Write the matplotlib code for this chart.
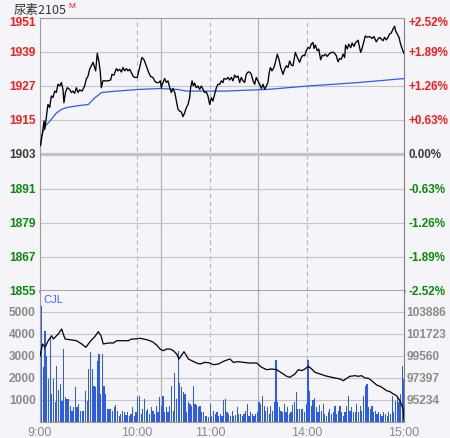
import numpy as np
import matplotlib
matplotlib.use('Agg')
import matplotlib.pyplot as plt
from matplotlib.transforms import blended_transform_factory

plt.rcParams['font.family'] = ['Liberation Sans', 'DejaVu Sans']

# --- data ---
# minutes since 9:00 (trading minutes only: 9:00-10:15, 10:30-11:30, 13:30-15:00)
price_min = [0.4, 1.2, 2.5, 2.9, 3.9, 4.9, 6.0, 7.0, 8.0, 9.1, 10.1, 11.1, 12.2, 13.2, 14.2, 14.8, 15.7, 16.9,
             18.3, 19.4, 20.4, 21.4, 22.5, 23.5, 24.5, 26.0, 27.6, 28.6, 29.7, 30.7, 31.7, 32.8, 33.8, 34.4,
             35.4, 36.5, 37.3, 37.9, 38.9, 40.0, 42.0, 43.7, 44.5, 45.7, 47.2, 48.2, 49.2, 50.3, 51.3, 52.3,
             53.4, 54.4, 55.4, 56.5, 57.5,
             58.5, 60.1, 61.6, 63.0, 64.3, 65.7, 67.2, 68.4, 69.8, 70.9, 71.9, 73.4, 74.4, 75.0, 76.0, 77.1,
             78.1, 79.1, 80.2, 81.2, 82.2, 83.3, 84.3, 85.3, 86.3, 87.4, 88.4, 89.4, 90.5, 91.5, 92.5, 93.1,
             94.0, 94.8, 95.6, 96.6, 97.7, 98.7, 99.7, 100.8, 101.8, 102.8, 103.8, 104.9, 105.9, 106.9, 108.0,
             109.0, 110.0, 111.1, 112.1, 113.1,
             113.7, 115.2, 116.2, 117.2, 118.3, 119.3, 120.3, 121.4, 122.4, 123.4, 124.4, 125.5, 126.5, 127.5,
             128.6, 129.6, 130.6, 131.7, 132.7, 133.7, 134.7, 135.8, 136.8, 137.8, 138.9, 139.9, 140.9, 141.5,
             142.4, 143.4, 144.6, 145.5, 146.7, 147.7, 148.8, 150.2, 151.2, 152.3, 153.3, 154.3, 155.4, 156.4,
             157.8, 159.1, 160.5, 161.5, 162.6, 163.6, 164.6, 165.7, 166.7, 167.7, 168.7,
             169.4, 170.2, 171.4, 172.3, 173.5, 174.5, 175.5, 176.4, 177.6, 178.6, 180.1, 181.7, 183.2, 184.2,
             185.3, 186.3, 187.3, 188.3, 188.9, 190.0, 190.8, 192.1, 192.9, 194.1, 194.9, 196.6, 197.6, 198.2,
             199.0, 200.3, 201.1, 202.3, 203.8, 205.2, 206.4, 207.9, 208.9, 209.9, 211.0, 212.0, 213.0, 214.1,
             215.1, 216.1, 217.1, 218.2, 219.2, 219.8, 220.8, 221.9, 222.9, 223.9, 225.0]
price_val = [1906.2, 1909.5, 1914.8, 1911.8, 1916.0, 1920.6, 1919.5, 1923.6, 1923.0, 1925.3, 1924.8, 1927.7,
             1927.1, 1928.3, 1925.9, 1921.2, 1924.8, 1926.5, 1925.9, 1924.8, 1925.3, 1924.5, 1926.5, 1924.8,
             1925.7, 1925.3, 1927.1, 1929.5, 1930.6, 1933.0, 1934.2, 1935.4, 1933.6, 1932.4, 1938.6, 1935.4,
             1931.8, 1926.5, 1928.9, 1928.9, 1928.9, 1929.2, 1931.2, 1930.9, 1933.2, 1932.4, 1933.0, 1932.0,
             1933.6, 1932.4, 1933.2, 1932.4, 1933.0, 1931.8, 1930.6,
             1930.1, 1930.1, 1933.6, 1937.1, 1936.3, 1934.2, 1931.8, 1930.4, 1930.1, 1928.9, 1928.3, 1928.3,
             1928.9, 1926.5, 1928.3, 1929.7, 1928.3, 1928.9, 1926.5, 1924.8, 1926.2, 1924.8, 1921.8, 1918.9,
             1918.3, 1917.9, 1916.3, 1917.7, 1919.5, 1920.6, 1923.0, 1926.5, 1928.9, 1927.1, 1928.1, 1926.5,
             1927.1, 1925.9, 1927.1, 1925.9, 1924.8, 1925.0, 1923.6, 1920.6, 1923.0, 1921.8, 1924.2, 1926.5,
             1927.7, 1927.7, 1928.9, 1928.3,
             1929.7, 1929.5, 1930.1, 1929.2, 1930.1, 1928.9, 1930.9, 1930.1, 1930.6, 1928.3, 1930.1, 1928.9,
             1928.3, 1931.2, 1932.0, 1932.0, 1931.2, 1928.9, 1927.7, 1930.1, 1928.9, 1927.7, 1926.2, 1927.7,
             1925.9, 1927.1, 1928.3, 1931.2, 1933.6, 1932.4, 1933.6, 1935.4, 1938.3, 1936.5, 1933.6, 1931.2,
             1933.0, 1934.2, 1933.6, 1935.9, 1934.4, 1934.2, 1938.9, 1937.1, 1935.4, 1937.1, 1937.9, 1937.7,
             1939.5, 1940.6, 1940.3, 1941.8, 1942.4,
             1940.3, 1941.5, 1939.5, 1940.1, 1936.3, 1937.9, 1937.7, 1938.3, 1937.5, 1938.3, 1938.9, 1938.9,
             1937.7, 1935.6, 1936.8, 1936.5, 1938.3, 1937.1, 1941.5, 1940.1, 1941.8, 1940.6, 1942.2, 1941.0,
             1942.2, 1943.2, 1940.6, 1938.9, 1940.1, 1943.0, 1944.7, 1944.2, 1944.5, 1943.8, 1944.5, 1942.6,
             1943.6, 1944.2, 1943.6, 1943.0, 1944.2, 1943.3, 1944.2, 1945.4, 1945.7, 1947.1, 1948.1, 1946.5,
             1945.4, 1944.2, 1941.8, 1940.1, 1938.5]

avg_min = [0, 1.0, 3.1, 6.2, 10.3, 13.4, 16.5, 22.7, 29.9, 34.0, 38.1, 47.4, 61.8, 74.2, 84.5, 90.7, 114.3,
           141.1, 165.8, 196.7, 225.0]
avg_val = [1906.0, 1909.5, 1913.0, 1914.8, 1917.7, 1918.9, 1919.5, 1920.1, 1920.6, 1923.0, 1924.8, 1925.3,
           1925.9, 1926.2, 1925.9, 1925.3, 1925.3, 1925.9, 1927.1, 1928.3, 1929.7]

volume = [440, 5260, 2480, 4150, 3020, 1950, 3850, 1270, 1950, 890, 2530, 1470, 1730, 970, 3320, 1120, 1050,
          1050, 740, 520, 670, 1580, 670, 820, 520, 520, 520, 1420, 970, 2410, 3200, 2410, 1650, 1580, 2790,
          3090, 1270, 3090, 1650, 1270, 590, 590, 590, 520, 670, 770, 520, 290, 360, 520, 440, 320, 440, 290,
          360, 670, 290, 440, 1120, 1200, 360, 590, 1050, 520, 590, 360, 670, 520, 360, 740, 440, 1120, 740,
          1200, 440, 670, 440, 740, 1650, 520, 2230, 1050, 3240, 1770, 1580, 1350, 1270, 440, 890, 820, 740,
          1650, 820, 770, 670, 740, 440, 440, 290, 260, 210, 820, 290, 520, 360, 440, 290, 360, 290, 1020,
          1050, 440, 360, 290, 520, 290, 320, 670, 360, 360, 290, 360, 520, 820, 290, 470, 360, 290, 360, 440,
          890, 820, 1200, 740, 520, 670, 360, 740, 520, 890, 2830, 890, 670, 520, 440, 820, 440, 670, 360, 440,
          770, 890, 1350, 590, 590, 590, 590, 440, 820, 2830, 1420, 740, 1020, 1080, 670, 440, 770, 520, 820,
          360, 290, 440, 590, 360, 440, 740, 360, 520, 740, 440, 290, 440, 740, 1200, 520, 670, 440, 440, 820,
          440, 740, 520, 1200, 1650, 1730, 670, 590, 740, 440, 520, 360, 440, 360, 290, 470, 360, 290, 440, 360,
          1200, 440, 970, 1120, 890, 1270, 2530, 1950]

oi_min = [0.0, 1.6, 3.1, 5.1, 7.2, 8.2, 11.3, 13.4, 14.4, 15.5, 18.5, 22.6, 25.8, 28.4, 30.9, 34.0, 36.0, 37.7,
          39.1, 42.2, 45.3, 47.4, 51.5, 54.6, 56.6, 58.7, 61.8, 65.9, 68.0, 70.0, 72.1, 74.2, 76.2, 78.3, 80.4,
          82.4, 84.5, 85.9, 87.6, 89.0, 90.3, 91.7, 93.8, 96.8, 98.9, 102.0, 105.1, 107.1, 110.2, 112.3, 114.3,
          117.4, 119.5, 122.6, 125.7, 128.8, 133.9, 137.0, 140.1, 143.2, 146.3, 149.4, 152.5, 154.5, 157.6,
          159.7, 161.7, 163.8, 165.8, 167.5, 170.0, 173.1, 176.2, 180.3, 183.4, 185.4, 187.5, 189.6, 191.6,
          194.7, 196.8, 198.8, 200.9, 203.0, 205.0, 208.1, 210.2, 212.2, 214.3, 216.4, 218.4, 220.5, 222.1,
          223.6, 224.6, 225.0]
oi_val = [99530, 100740, 100415, 101065, 101557, 101232, 101723, 102215, 101723, 101232, 101163, 101065, 100740,
          100415, 100966, 101491, 101950, 101557, 100740, 100838, 100838, 101065, 101065, 101065, 101232,
          101232, 101300, 101163, 101065, 100908, 100640, 100248, 100085, 100248, 100248, 100085, 99757, 99265,
          99660, 99986, 99660, 99265, 99100, 98872, 98770, 98940, 98872, 98707, 98770, 98940, 99098,
          99265, 98937, 99003, 98937, 98872, 98872, 98449, 98216, 98280, 98216, 97889, 97565, 97466, 97790,
          98216, 98120, 98280, 98547, 98350, 97958, 97790, 97623, 97466, 97368, 97300, 97131, 97368, 97565,
          97623, 97565, 97623, 97397, 97368, 97131, 96709, 96581, 96384, 96148, 96050, 95824, 95657, 95264,
          94742, 94182, 93366]

price_ticks = [1951, 1939, 1927, 1915, 1903, 1891, 1879, 1867, 1855]
pct_labels = ['+2.52%', '+1.89%', '+1.26%', '+0.63%', '0.00%', '-0.63%', '-1.26%', '-1.89%', '-2.52%']
prev_close = 1903
vol_ticks = [1000, 2000, 3000, 4000, 5000]
oi_ticks = [95234, 97397, 99560, 101723, 103886]
time_ticks = [0, 60, 105, 165, 225]
time_labels = ['9:00', '10:00', '11:00', '14:00', '15:00']
hour_lines = [60, 105, 165]
session_breaks = [75, 135]

# --- style ---
bg = '#f5f5f9'
grid_c = '#c4c4c4'
up_c = '#ff1a1a'
dn_c = '#0a8a0a'
gray_c = '#8a8a8a'
blue_c = '#2d5de6'

fig = plt.figure(figsize=(4.5, 4.39), dpi=100, facecolor=bg)
W, Hh = 450.0, 439.0
left, width = 40 / W, 364 / W
ax = fig.add_axes([left, 1 - 292 / Hh, width, 273 / Hh], facecolor=bg)
axv = fig.add_axes([left, 1 - 423 / Hh, width, 131 / Hh], facecolor=bg)
axo = axv.twinx()

for a in (ax, axv):
    a.set_xlim(0, 225)
    for x in hour_lines:
        a.axvline(x, color='#b4b4b4', lw=0.8, ls=(0, (4, 3)), zorder=1)
    for x in session_breaks:
        a.axvline(x, color='#b4b4b4', lw=0.9, zorder=1)
    a.set_yticks([])
    for s in a.spines.values():
        s.set_color('#9a9a9a')
        s.set_linewidth(0.8)
    a.spines['right'].set_color('#808080')

# price panel
ax.set_ylim(price_ticks[-1], price_ticks[0])
ax.set_xticks([])
for p in price_ticks[1:-1]:
    if p == prev_close:
        ax.axhline(p, color='#c2c2c2', lw=2.3, zorder=1)
    else:
        ax.axhline(p, color=grid_c, lw=0.8, zorder=1)
ax.axhline(price_ticks[-1], color='#8c8c8c', lw=1.8, zorder=3, clip_on=False)
ax.spines['bottom'].set_visible(False)

ax.plot(avg_min, avg_val, color=blue_c, lw=0.9, zorder=4)
ax.plot(price_min, price_val, color='black', lw=0.95, zorder=5)

ltr = blended_transform_factory(ax.transAxes, ax.transData)
for i, (p, lab) in enumerate(zip(price_ticks, pct_labels)):
    c = up_c if p > prev_close else (dn_c if p < prev_close else '#3a3a3a')
    va = 'top' if i == 0 else 'center'
    yy = p + 0.6 if i == 0 else p
    ax.text(-0.012, yy, str(p), transform=ltr, ha='right', va=va, color=c,
            fontsize=8.6, fontweight='bold')
    ax.text(1.012, yy, lab, transform=ltr, ha='left', va=va, color=c,
            fontsize=8.4, fontweight='bold')

# volume panel
vol_top = 5955
axv.set_ylim(0, vol_top)
for v in vol_ticks:
    axv.axhline(v, color=grid_c, lw=0.8, zorder=1)
axv.spines['top'].set_visible(False)
bx = np.linspace(0, 225, len(volume))
axv.bar(bx, volume, width=0.75, color=blue_c, linewidth=0, zorder=2)
axv.set_xticks(time_ticks)
axv.set_xticklabels(time_labels, color=gray_c, fontsize=9)
axv.tick_params(axis='x', length=0, pad=3)

step = oi_ticks[1] - oi_ticks[0]
oi_lo = oi_ticks[0] - step * vol_ticks[0] / (vol_ticks[1] - vol_ticks[0])
axo.set_ylim(oi_lo, oi_lo + step * vol_top / (vol_ticks[1] - vol_ticks[0]))
axo.set_yticks([])
axo.plot(oi_min, oi_val, color='black', lw=0.9, zorder=5)
for s in axo.spines.values():
    s.set_visible(False)

vtr = blended_transform_factory(axv.transAxes, axv.transData)
otr = blended_transform_factory(axo.transAxes, axo.transData)
for v, o in zip(vol_ticks, oi_ticks):
    axv.text(-0.012, v, str(v), transform=vtr, ha='right', va='center', color=gray_c,
             fontsize=8.6, fontweight='bold')
    axo.text(1.006, o, str(o), transform=otr, ha='left', va='center', color=gray_c,
             fontsize=8.6, fontweight='bold')

axv.text(0.008, 0.94, 'CJL', transform=axv.transAxes, ha='left', va='center',
         color='#3a66ff', fontsize=8)

# title
t = fig.text(14 / W, 1 - 10.5 / Hh, '尿素2105', ha='left', va='center', color='#333333',
             fontsize=9, family=['Noto Sans CJK SC', 'DejaVu Sans'])
fig.canvas.draw()
ext = t.get_window_extent()
fig.text((ext.x1 + 1) / W, 1 - 7 / Hh, 'M', ha='left', va='center', color=up_c, fontsize=6)

fig.savefig('out.png', dpi=100, facecolor=bg)
